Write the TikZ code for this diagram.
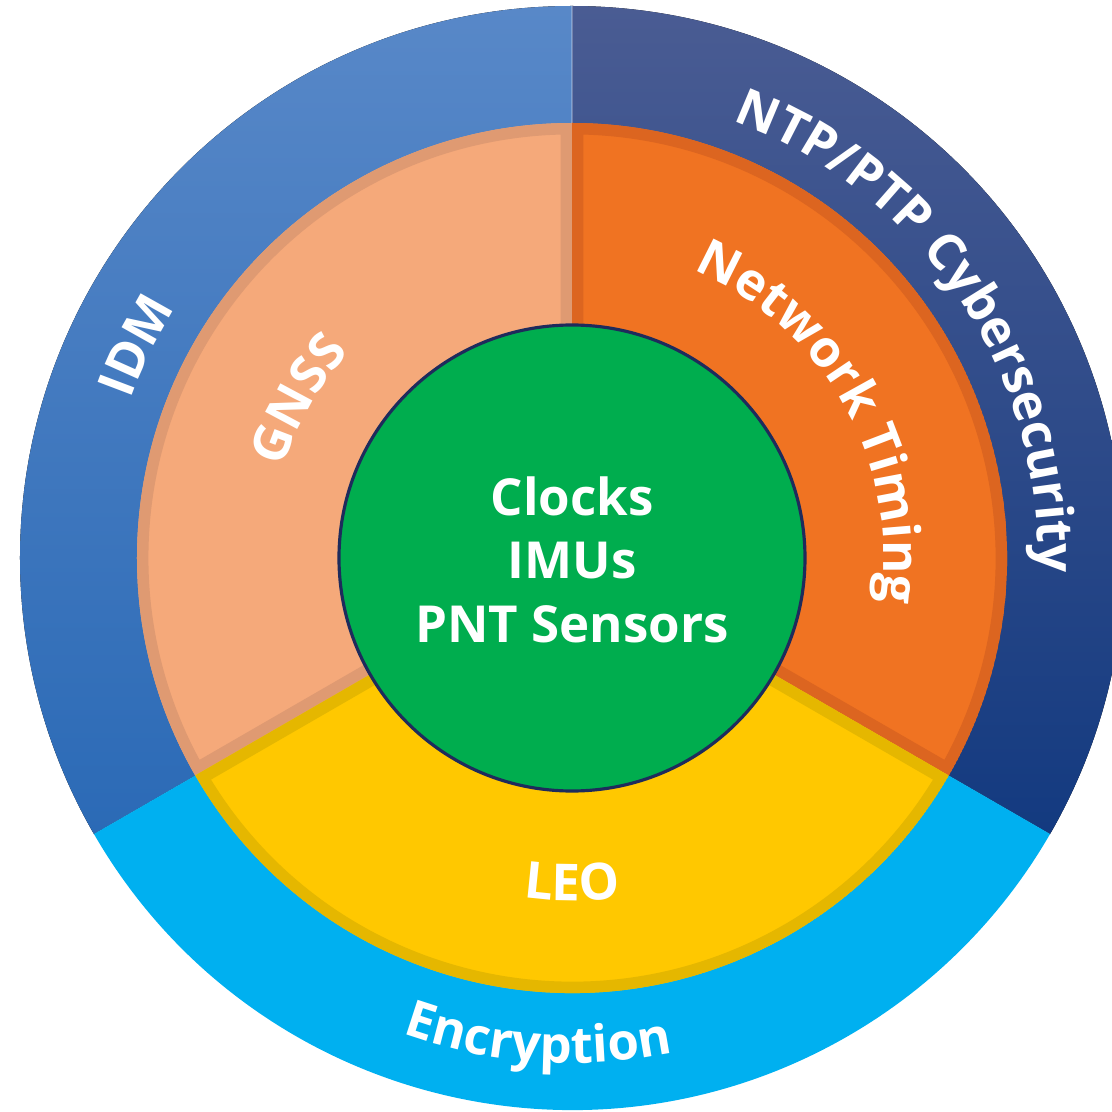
\documentclass[tikz,border=0pt]{standalone}
\usepackage{fontspec}
\setmainfont{Open Sans}
\usetikzlibrary{decorations.text}
\definecolor{tlTop}{HTML}{5888C8}
\definecolor{tlBot}{HTML}{2B6AB6}
\definecolor{trTop}{HTML}{4A5C93}
\definecolor{trBot}{HTML}{133A80}
\definecolor{cyanC}{HTML}{00B0F0}
\definecolor{gnssF}{HTML}{F5A97A}
\definecolor{gnssB}{HTML}{DF9A72}
\definecolor{orngF}{HTML}{F07322}
\definecolor{orngB}{HTML}{DC6520}
\definecolor{yelF}{HTML}{FFC800}
\definecolor{yelB}{HTML}{E5B700}
\definecolor{greenF}{HTML}{00AD4E}
\definecolor{greenB}{HTML}{1E2B5C}
\newcommand\lblfont{\fontsize{14.5}{17}\selectfont\bfseries\color{white}}
\tikzset{
  curvedlabel/.style={decorate, decoration={text along path, text align=center, text={|\lblfont|#1}}},
  centerlabel/.style={text=white, font=\fontsize{14.5}{17}\selectfont\bfseries, anchor=base, inner sep=0pt}
}
\begin{document}
\begin{tikzpicture}[x=0.01cm,y=0.01cm]
\useasboundingbox (-572,-554) rectangle (540,558);
\begin{scope}
\clip (-572,-554) rectangle (540,558);
% outer ring sectors
\fill[top color=tlTop, bottom color=tlBot] (0,0) -- (90:552) arc[start angle=90,end angle=210,radius=552] -- cycle;
\fill[top color=trTop, bottom color=trBot] (0,0) -- (-30:552) arc[start angle=-30,end angle=90,radius=552] -- cycle;
\fill[cyanC] (0,0) -- (210:552) arc[start angle=210,end angle=330,radius=552] -- cycle;
\draw[white, opacity=0.25, line width=0.6pt] (0,435) -- (0,552);
% middle ring sectors
\begin{scope}
\clip (0,0) -- (90:435) arc[start angle=90,end angle=210,radius=435] -- cycle;
\fill[gnssF] (0,0) -- (90:435) arc[start angle=90,end angle=210,radius=435] -- cycle;
\draw[gnssB, line width=6.5pt] (0,0) -- (90:435) arc[start angle=90,end angle=210,radius=435] -- cycle;
\end{scope}
\begin{scope}
\clip (0,0) -- (-30:435) arc[start angle=-30,end angle=90,radius=435] -- cycle;
\fill[orngF] (0,0) -- (-30:435) arc[start angle=-30,end angle=90,radius=435] -- cycle;
\draw[orngB, line width=6.5pt] (0,0) -- (-30:435) arc[start angle=-30,end angle=90,radius=435] -- cycle;
\end{scope}
\begin{scope}
\clip (0,0) -- (210:435) arc[start angle=210,end angle=330,radius=435] -- cycle;
\fill[yelF] (0,0) -- (210:435) arc[start angle=210,end angle=330,radius=435] -- cycle;
\draw[yelB, line width=6.5pt] (0,0) -- (210:435) arc[start angle=210,end angle=330,radius=435] -- cycle;
\end{scope}
% inner circle
\node[circle, fill=greenF, draw=greenB, line width=0.9pt, minimum size=466*0.01cm, inner sep=0pt] (core) at (0,0) {};
\node[centerlabel] (clocks) at (0,43) {Clocks};
\node[centerlabel] (imus) at (0,-20) {IMUs};
\node[centerlabel] (pnt) at (0,-84) {PNT Sensors};
% curved labels
\path[curvedlabel={IDM}] (184:469) arc[start angle=184,end angle=124,radius=469];
\path[curvedlabel={NTP/PTP Cybersecurity}] (94:466) arc[start angle=94,end angle=-26,radius=466];
\path[curvedlabel={Encryption}] (226:505) arc[start angle=226,end angle=306,radius=505];
\path[curvedlabel={GNSS}] (180:303) arc[start angle=180,end angle=120,radius=303];
\path[curvedlabel={Network Timing}] (79.5:312) arc[start angle=79.5,end angle=-20.5,radius=312];
\path[curvedlabel={LEO}] (240:343) arc[start angle=240,end angle=300,radius=343];
\end{scope}
\end{tikzpicture}
\end{document}
